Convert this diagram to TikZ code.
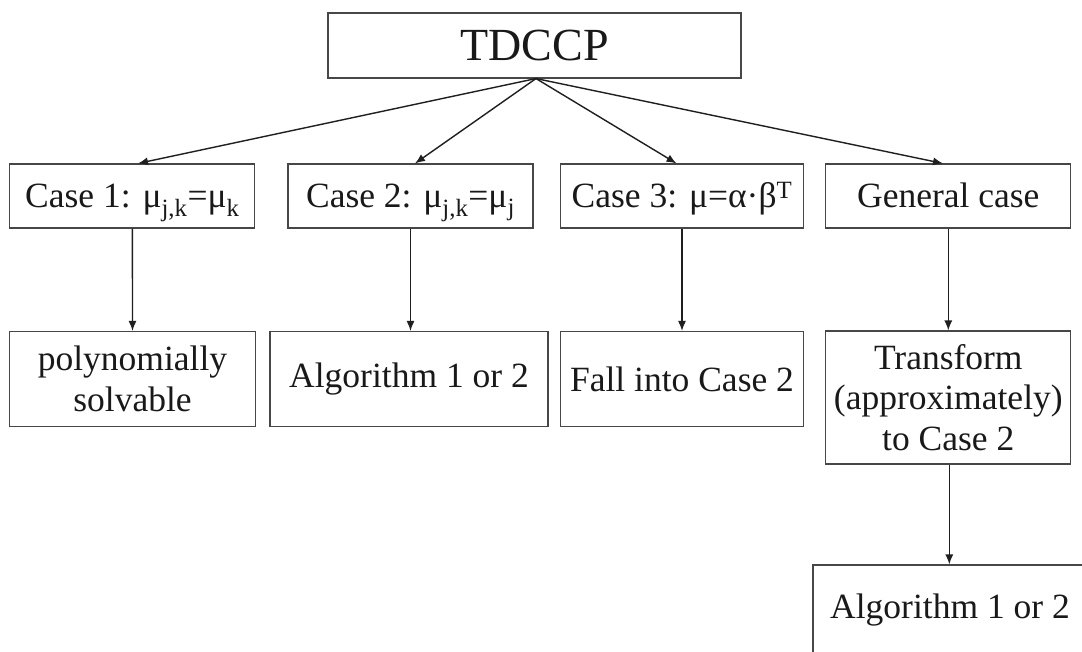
\documentclass[tikz,border=0pt]{standalone}
\usepackage{fontspec}
\setmainfont{Liberation Serif}
\usetikzlibrary{arrows.meta}
\begin{document}
\begin{tikzpicture}[x=1pt,y=-1pt,
  box/.style={draw=black!72, line width=1.1pt, inner sep=0pt, align=center,
    font=\fontsize{35.5}{40.5}\selectfont, text=black!90},
  onebox/.style={box, minimum height=64pt, text height=23.5pt, text depth=0pt},
  arr/.style={draw=black!88, line width=1.4pt, -{Latex[length=10pt,width=8pt]}}]
\fill[white] (0,0) rectangle (1082,652);
\useasboundingbox (0,0) rectangle (1082,652);
% top
\node[box, minimum width=413pt, minimum height=65pt, font=\fontsize{46}{50}\selectfont] (top) at (534.5,45.5) {TDCCP};
% row 2
\node[onebox, minimum width=245pt] (c1) at (132.4,196) {Case 1: μ\textsubscript{j,k}=μ\textsubscript{k}};
\node[onebox, minimum width=245pt] (c2) at (410.5,196) {Case 2: μ\textsubscript{j,k}=μ\textsubscript{j}};
\node[onebox, minimum width=243pt] (c3) at (682,196) {Case 3: μ=α·β\textsuperscript{T}};
\node[onebox, minimum width=245pt] (gc) at (948.3,196) {General case};
% row 3
\node[box, minimum width=246pt, minimum height=95pt] (r1) at (132.5,379) {polynomially\\solvable};
\node[box, minimum width=278pt, minimum height=95pt] (r2) at (409,379) {Algorithm 1 or 2};
\node[box, minimum width=243pt, minimum height=95pt] (r3) at (682,379) {Fall into Case 2};
\node[box, minimum width=245pt, minimum height=133pt] (r4) at (948.3,397.5) {Transform\\(approximately)\\to Case 2};
% last
\node[box, minimum width=274pt, minimum height=90pt] (last) at (950,610) {Algorithm 1 or 2};
% arrows
\draw[arr] ([xshift=1.5pt]top.south) -- ([xshift=5.6pt]c1.north);
\draw[arr] ([xshift=1.5pt]top.south) -- ([xshift=4.5pt]c2.north);
\draw[arr] ([xshift=1.5pt]top.south) -- ([xshift=-5.5pt]c3.north);
\draw[arr] ([xshift=1.5pt]top.south) -- ([xshift=-5.3pt]gc.north);
\draw[arr] (c1.south) -- (r1.north);
\draw[arr] (c2.south) -- (c2.south |- r2.north);
\draw[arr] (c3.south) -- (r3.north);
\draw[arr] (gc.south) -- (r4.north);
\draw[arr] ([xshift=1pt]r4.south) -- ([xshift=1pt]r4.south |- last.north);
\end{tikzpicture}
\end{document}
